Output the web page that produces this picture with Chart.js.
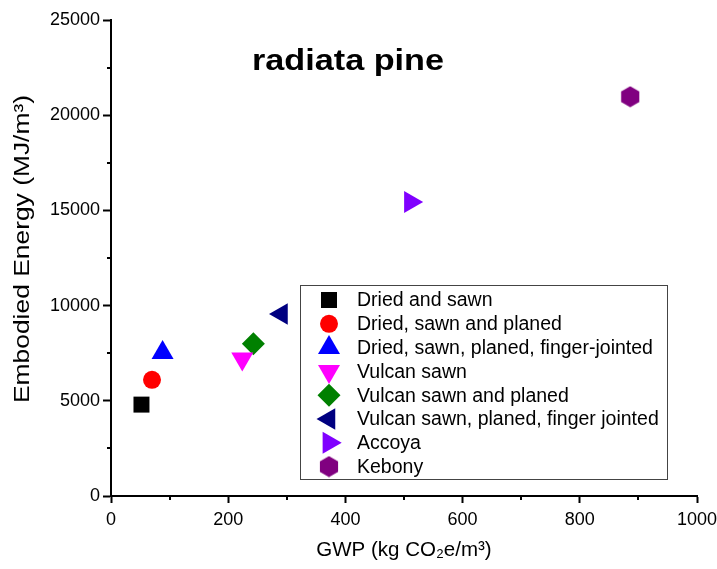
<!DOCTYPE html>
<html>
<head>
  <meta charset="utf-8" />
  <title>radiata pine</title>
  <script src="https://cdn.jsdelivr.net/npm/chart.js@4.4.1/dist/chart.umd.min.js"></script>
  <style>
    body { margin: 0; background: #fff; }
    #chart { display: block; }
  </style>
</head>
<body>
  <canvas id="chart" width="717" height="569"></canvas>

  <script>
    // data
    const seriesNames = [
      'Dried and sawn',
      'Dried, sawn and planed',
      'Dried, sawn, planed, finger-jointed',
      'Vulcan sawn',
      'Vulcan sawn and planed',
      'Vulcan sawn, planed, finger jointed',
      'Accoya',
      'Kebony'
    ];
    const gwpValues    = [52, 70, 88, 224, 243, 291, 511, 886];          // kg CO2e/m3
    const energyValues = [4800, 6100, 7530, 7200, 8000, 9560, 15440, 20970]; // MJ/m3

    const xTicks = [0, 200, 400, 600, 800, 1000];
    const yTicks = [0, 5000, 10000, 15000, 20000, 25000];

    const chartTitle = 'radiata pine';
    const xTitle = 'GWP (kg CO₂e/m³)';
    const yTitle = 'Embodied Energy (MJ/m³)';

    // styles
    const colours = ['#000000', '#ff0000', '#0000ff', '#ff00ff', '#008000', '#000080', '#8000ff', '#800080'];
    const FONT = '"Liberation Sans", Arial, sans-serif';

    // hexagon marker for Kebony (no built-in style for it)
    function makeHexagon(color) {
      const c = document.createElement('canvas');
      c.width = 20; c.height = 22;
      const g = c.getContext('2d');
      g.fillStyle = color;
      g.beginPath();
      for (let i = 0; i < 6; i++) {
        const a = Math.PI / 2 + i * Math.PI / 3;
        const px = 10 + Math.cos(a) * 10.5;
        const py = 11 - Math.sin(a) * 10.5;
        if (i === 0) g.moveTo(px, py); else g.lineTo(px, py);
      }
      g.closePath();
      g.fill();
      return c;
    }

    const markers = [
      { style: 'rect', radius: 11.3, rotation: 0 },
      { style: 'circle', radius: 9, rotation: 0 },
      { style: 'triangle', radius: 12.7, rotation: 0 },
      { style: 'triangle', radius: 12.7, rotation: 180 },
      { style: 'rectRot', radius: 11.5, rotation: 0 },
      { style: 'triangle', radius: 12.5, rotation: -90 },
      { style: 'triangle', radius: 12.7, rotation: 90 },
      { style: makeHexagon(colours[7]), radius: 10.5, rotation: 0 }
    ];

    const datasets = seriesNames.map((name, i) => ({
      label: name,
      data: [{ x: gwpValues[i], y: energyValues[i] }],
      pointStyle: markers[i].style,
      pointRadius: markers[i].radius,
      pointRotation: markers[i].rotation,
      backgroundColor: colours[i],
      borderColor: colours[i],
      pointBorderWidth: 0
    }));

    // minor ticks, titles and the boxed legend
    const extras = {
      id: 'extras',
      afterDraw(chart) {
        const ctx = chart.ctx;
        const xs = chart.scales.x, ys = chart.scales.y;
        const area = chart.chartArea;

        ctx.save();
        ctx.strokeStyle = '#000';
        ctx.lineWidth = 2;
        ctx.beginPath();
        for (let v = 100; v < 1000; v += 200) {
          const px = Math.round(xs.getPixelForValue(v));
          ctx.moveTo(px, area.bottom);
          ctx.lineTo(px, area.bottom + 4);
        }
        for (let v = 2500; v < 25000; v += 5000) {
          const py = Math.round(ys.getPixelForValue(v));
          ctx.moveTo(area.left, py);
          ctx.lineTo(area.left - 4, py);
        }
        ctx.stroke();
        ctx.restore();

        // chart title inside the plot (the original font runs wide)
        ctx.save();
        ctx.fillStyle = '#000';
        ctx.font = 'bold 29px ' + FONT;
        ctx.textBaseline = 'alphabetic';
        ctx.textAlign = 'left';
        const w = ctx.measureText(chartTitle).width;
        ctx.translate(252, 69.5);
        ctx.scale(192 / w, 1);
        ctx.fillText(chartTitle, 0, 0);
        ctx.restore();

        // y axis title, also a little stretched along its baseline
        ctx.save();
        ctx.fillStyle = '#000';
        ctx.font = '22.5px ' + FONT;
        ctx.textBaseline = 'middle';
        ctx.textAlign = 'center';
        const wy = ctx.measureText(yTitle).width;
        ctx.translate(23, 249);
        ctx.rotate(-Math.PI / 2);
        ctx.scale(308 / wy, 1);
        ctx.fillText(yTitle, 0, 0);
        ctx.restore();

        // legend box
        ctx.save();
        ctx.strokeStyle = '#444';
        ctx.lineWidth = 1;
        ctx.fillStyle = '#fff';
        ctx.fillRect(300.5, 285.5, 367, 194);
        ctx.strokeRect(300.5, 285.5, 367, 194);
        ctx.font = '19.5px ' + FONT;
        ctx.textBaseline = 'middle';
        ctx.textAlign = 'left';
        seriesNames.forEach((name, i) => {
          const cy = 300 + i * 23.8;
          ctx.fillStyle = colours[i];
          ctx.strokeStyle = colours[i];
          Chart.helpers.drawPoint(ctx, {
            pointStyle: markers[i].style,
            radius: markers[i].radius,
            rotation: markers[i].rotation,
            borderWidth: 0
          }, 329, cy);
          ctx.fillStyle = '#000';
          ctx.fillText(name, 357, cy + 1);
        });
        ctx.restore();
      }
    };

    new Chart(document.getElementById('chart'), {
      type: 'scatter',
      data: { datasets },
      options: {
        responsive: false,
        animation: false,
        events: [],
        layout: { padding: { left: 0, right: 20, top: 20, bottom: 0 } },
        plugins: {
          legend: { display: false },
          tooltip: { enabled: false }
        },
        scales: {
          x: {
            type: 'linear',
            min: 0,
            max: 1000,
            afterBuildTicks: s => { s.ticks = xTicks.map(v => ({ value: v })); },
            afterFit: s => { s.height = 73; s.paddingLeft = 0; s.paddingRight = 0; },
            grid: { drawOnChartArea: false, tickLength: 7, tickWidth: 2, tickColor: '#000' },
            border: { display: true, color: '#000', width: 2 },
            ticks: { color: '#000', font: { family: FONT, size: 18 }, padding: 6, maxRotation: 0, callback: v => String(v) },
            title: {
              display: true,
              text: xTitle,
              color: '#000',
              font: { family: FONT, size: 20.5 },
              padding: { top: 0, bottom: 6 }
            }
          },
          y: {
            type: 'linear',
            min: 0,
            max: 25000,
            afterBuildTicks: s => { s.ticks = yTicks.map(v => ({ value: v })); },
            afterFit: s => { s.width = 111; s.paddingTop = 0; s.paddingBottom = 0; },
            grid: { drawOnChartArea: false, tickLength: 8, tickWidth: 2, tickColor: '#000' },
            border: { display: true, color: '#000', width: 2 },
            ticks: { color: '#000', font: { family: FONT, size: 18 }, padding: 3, callback: v => String(v) },
            title: { display: false }
          }
        }
      },
      plugins: [extras]
    });
  </script>
</body>
</html>
